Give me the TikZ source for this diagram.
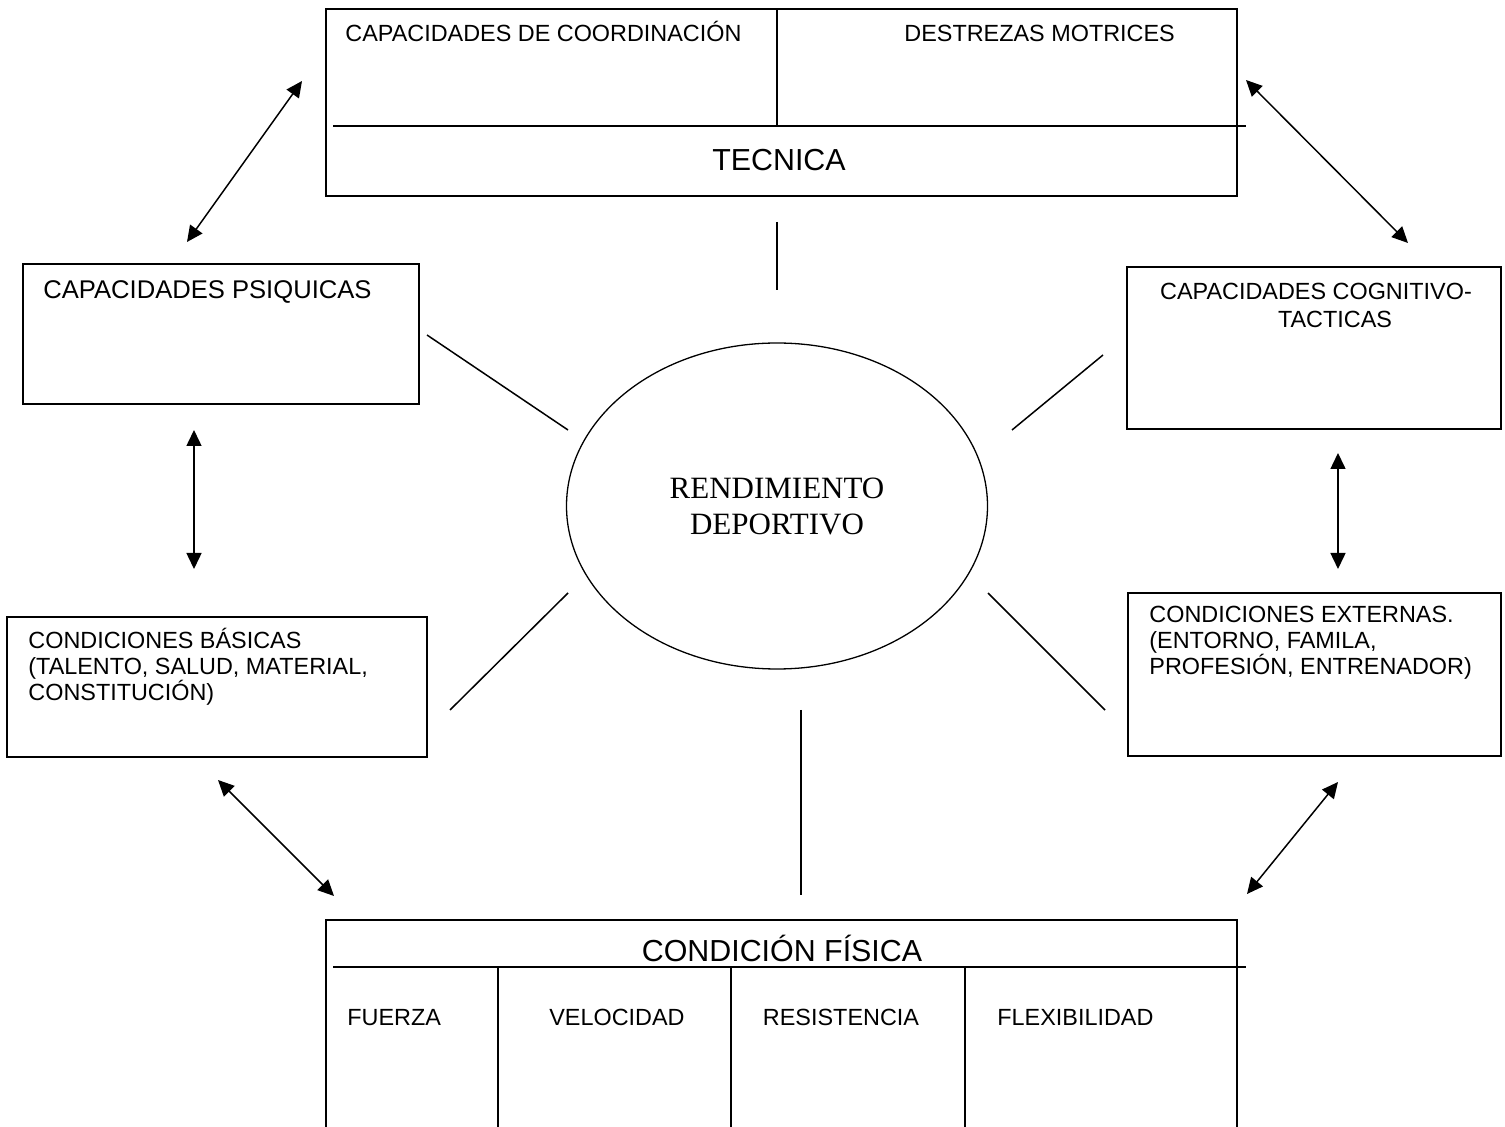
\documentclass[tikz,border=0pt]{standalone}
\usepackage{fontspec}
\setmainfont{Liberation Serif}
\setsansfont{Liberation Sans}
\usetikzlibrary{arrows.meta,shapes.geometric}

\tikzset{
    caja/.style={draw, line width=0.85pt, inner sep=0pt, outer sep=0pt, anchor=north west},
    texto/.style={font=\sffamily\fontsize{11.7}{13}\selectfont, inner sep=0pt, align=left},
    titulo/.style={font=\sffamily\fontsize{15.2}{18}\selectfont, inner sep=0pt},
    flecha/.style={line width=0.75pt, {Triangle[length=8pt,width=7.5pt]}-{Triangle[length=8pt,width=7.5pt]}},
    raya/.style={line width=0.75pt}
}

\begin{document}
\begin{tikzpicture}[x=0.5pt, y=-0.5pt]
    \useasboundingbox (0,0) rectangle (1505,1127);
    \clip (0,0) rectangle (1505,1127);

    % Boxes
    \node[caja, minimum width=455.5pt, minimum height=93.5pt] (tecnica) at (326,9) {};
    \node[caja, minimum width=198pt, minimum height=70pt] (psiq) at (23,264) {};
    \node[caja, minimum width=187pt, minimum height=81pt] (cogn) at (1127,267) {};
    \node[caja, minimum width=210pt, minimum height=70pt] (basicas) at (7,617) {};
    \node[caja, minimum width=186.5pt, minimum height=81.5pt] (externas) at (1128,593) {};
    \node[caja, minimum width=455.5pt, minimum height=130pt] (fisica) at (326,920) {};
    \node[draw, ellipse, line width=0.65pt, minimum width=210.5pt, minimum height=163pt,
          inner sep=0pt, font=\rmfamily\fontsize{15.5}{18}\selectfont, align=center]
          (rend) at (777,506) {RENDIMIENTO\\DEPORTIVO};

    % Dividers
    \draw[line width=0.85pt] (333,126) -- (1246,126);
    \draw[line width=0.85pt] (777,9) -- (777,126);
    \draw[line width=0.85pt] (333,967) -- (1246,967);
    \foreach \x in {498, 731, 965} {
        \draw[line width=0.85pt] (\x,967) -- (\x,1140);
    }

    % Labels
    \node[texto, anchor=base west] (coord) at (345,41.5) {CAPACIDADES DE COORDINACIÓN};
    \node[texto, anchor=base west] (destr) at (904,41.5) {DESTREZAS MOTRICES};
    \node[titulo, anchor=base] (tec) at (779,171) {TECNICA};
    \node[texto, anchor=base west, font=\sffamily\fontsize{12.8}{14}\selectfont] (psiqt) at (43,299) {CAPACIDADES PSIQUICAS};
    \node[texto, anchor=base] (cognt) at (1316,300) {CAPACIDADES COGNITIVO-};
    \node[texto, anchor=base] (tact) at (1335,328) {TACTICAS};
    \node[texto, anchor=base west] (basicast) at (28,701) {CONDICIONES BÁSICAS\\(TALENTO, SALUD, MATERIAL,\\CONSTITUCIÓN)};
    \node[texto, anchor=base west] (externast) at (1149,675) {CONDICIONES EXTERNAS.\\(ENTORNO, FAMILA,\\PROFESIÓN, ENTRENADOR)};
    \node[titulo, anchor=base] (fis) at (782,961) {CONDICIÓN FÍSICA};
    \foreach \n/\x/\a/\t in {fu/347/base west/FUERZA, ve/617/base/VELOCIDAD,
                             re/841/base/RESISTENCIA, fl/997/base west/FLEXIBILIDAD} {
        \node[texto, anchor=\a] (\n) at (\x,1025) {\t};
    }

    % Free ends of the connectors
    \foreach \n/\x/\y in {r1/427/335, r2/568/430, r3/1103/355, r4/1012/430,
                          r5/568/593, r6/450/710, r7/988/593, r8/1105/710,
                          r9/777/222, r10/777/290, r11/801/710, r12/801/895,
                          f1/302/81, f2/187/242, f3/1246/80, f4/1408/243,
                          f5/194/430, f6/194/569, f7/1338/453, f8/1338/569,
                          f9/218/780, f10/334/896, f11/1338/782, f12/1247/894} {
        \coordinate (\n) at (\x,\y);
    }

    % Plain lines round the ellipse
    \foreach \a/\b in {r1/r2, r3/r4, r5/r6, r7/r8, r9/r10, r11/r12} {
        \draw[raya] (\a) -- (\b);
    }

    % Double arrows between the boxes
    \foreach \a/\b in {f1/f2, f3/f4, f5/f6, f7/f8, f9/f10, f11/f12} {
        \draw[flecha] (\a) -- (\b);
    }
\end{tikzpicture}
\end{document}
